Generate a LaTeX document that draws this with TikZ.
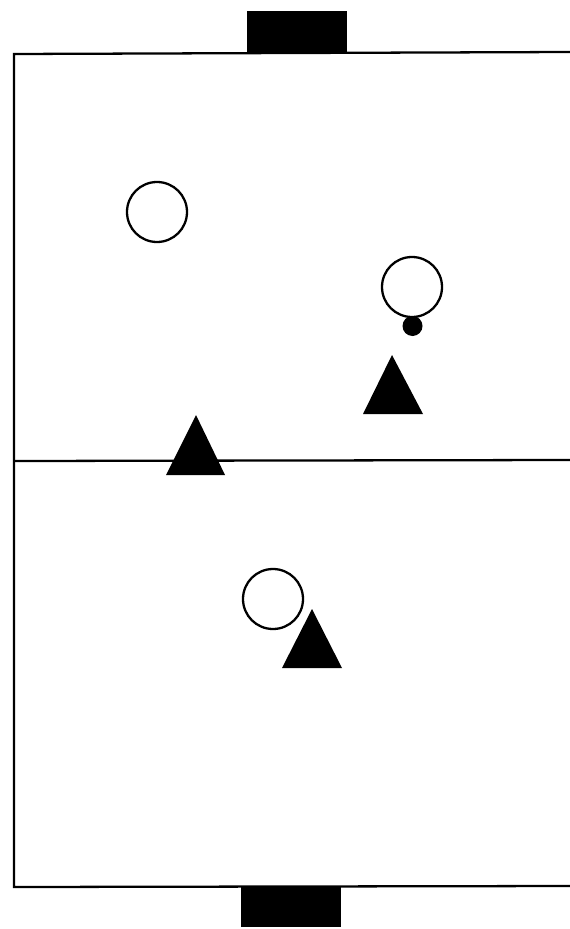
\documentclass[tikz,border=0pt]{standalone}
\usepackage{tikz}
\tikzset{
  line/.style={line width=1.3pt},
}
\begin{document}
\begin{tikzpicture}[x=0.02cm, y=-0.02cm]
    \useasboundingbox (0,0) rectangle (570,929);
    % Ворота
    \fill (247,11) rectangle (347,53);
    \fill (241,887) rectangle (341,927);
    % Поле
    \draw[line] (570,52) -- (14,54) -- (14,887) -- (570,886);
    \draw[line] (14,461) -- (570,460);
    % Игроки
    \draw[line] (157,212) circle (30);
    \draw[line] (412,287) circle (30);
    \draw[line] (273,599) circle (30);
    % Мяч
    \fill (412.5,326) circle (10);
    % Треугольники
    \fill (392,355) -- (423,414) -- (363,414) -- cycle;
    \fill (196,415) -- (225,475) -- (166,475) -- cycle;
    \fill (312,609) -- (342,668) -- (282,668) -- cycle;
\end{tikzpicture}
\end{document}
